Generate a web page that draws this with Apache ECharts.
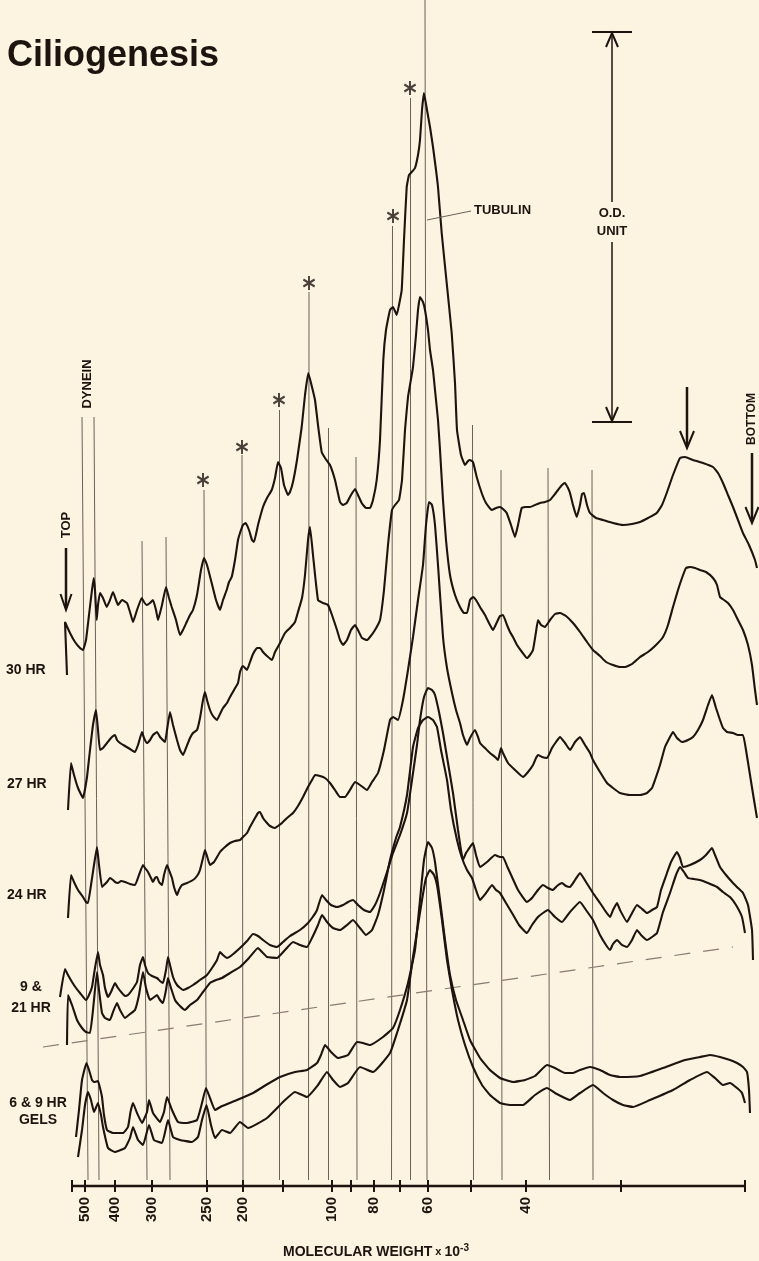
<!DOCTYPE html>
<html><head><meta charset="utf-8">
<script src="https://cdn.jsdelivr.net/npm/echarts@6/dist/echarts.min.js"></script>
<style>html,body{margin:0;padding:0;background:#fcf3e0;}#c{width:759px;height:1261px;}</style>
</head><body><div id="c"></div>
<script>
// x: migration distance along the gel (mm), y: optical density trace deflection (mm of chart paper; 39 mm = 1 O.D. unit)
const trace30 = [[-0.5,51.1],[-0.7,56.4],[-0.2,55.3],[0.3,54.4],[0.8,53.8],[1.1,53.6],[1.4,54.6],[1.7,57.1],[2.0,59.6],[2.17,60.8],[2.3,59.6],[2.47,56.6],[2.6,58.1],[2.8,59.3],[3.1,58.8],[3.47,57.9],[3.8,58.6],[4.1,59.4],[4.4,58.6],[4.6,58.1],[5.0,58.6],[5.5,58.3],[5.8,57.4],[6.1,56.4],[6.5,57.6],[6.97,58.8],[7.2,58.4],[7.47,58.1],[7.8,58.3],[8.1,58.6],[8.4,57.6],[8.6,56.6],[9.0,58.1],[9.4,59.9],[9.7,58.8],[9.97,57.9],[10.4,56.6],[10.8,55.1],[11.1,55.6],[11.47,56.4],[11.8,57.1],[12.1,57.6],[12.5,59.1],[12.9,61.6],[13.2,62.8],[13.5,62.1],[13.97,60.3],[14.4,58.6],[14.8,57.6],[15.1,58.6],[15.47,59.6],[15.7,60.4],[15.97,60.9],[16.3,62.6],[16.6,64.6],[16.8,65.3],[17.1,66.1],[17.37,66.3],[17.7,65.6],[18.0,64.6],[18.2,64.4],[18.6,66.1],[19.1,67.9],[19.5,68.8],[19.97,69.6],[20.3,70.8],[20.6,72.4],[20.9,71.8],[21.2,70.1],[21.6,69.1],[21.8,69.4],[22.1,70.4],[22.5,72.6],[22.97,75.9],[23.3,79.1],[23.63,81.3],[23.9,80.3],[24.3,78.6],[24.6,76.1],[24.97,73.4],[25.3,72.8],[25.8,72.1],[26.3,70.6],[26.8,68.4],[27.1,68.1],[27.47,68.3],[27.9,69.1],[28.3,69.7],[28.6,69.1],[28.97,68.3],[29.4,67.8],[29.8,67.8],[30.1,68.6],[30.47,70.6],[30.8,74.6],[31.13,82.6],[31.4,85.6],[31.8,87.6],[32.1,87.9],[32.47,87.1],[32.7,88.1],[32.97,89.6],[33.2,94.6],[33.47,99.9],[33.7,101.1],[33.97,101.4],[34.3,101.8],[34.6,103.1],[34.8,104.6],[35.0,107.6],[35.2,109.3],[35.5,107.6],[35.8,105.9],[36.1,103.9],[36.4,101.6],[36.6,99.9],[36.97,95.3],[37.47,90.3],[37.97,85.3],[38.3,80.3],[38.5,75.6],[38.9,73.1],[39.3,72.1],[39.6,72.5],[39.8,72.6],[40.1,72.4],[40.5,70.8],[40.97,69.3],[41.4,68.3],[41.97,67.6],[42.4,67.8],[42.8,67.9],[43.1,67.7],[43.47,67.3],[43.9,66.1],[44.3,64.9],[44.6,66.1],[44.97,67.8],[45.4,67.9],[45.8,67.9],[46.3,68.1],[46.8,68.3],[47.3,68.4],[47.8,68.6],[48.3,69.2],[48.6,69.6],[49.0,70.1],[49.3,70.3],[49.6,69.8],[49.8,69.3],[50.1,68.1],[50.47,66.9],[50.8,68.1],[51.0,69.2],[51.2,69.3],[51.5,68.1],[51.8,67.3],[52.4,66.8],[53.1,66.6],[54.1,66.3],[55.1,66.1],[56.0,66.2],[56.8,66.4],[57.6,66.8],[58.47,67.3],[59.0,68.1],[59.47,69.3],[60.1,71.1],[60.8,72.8],[61.3,72.9],[62.1,72.6],[63.1,72.3],[64.1,71.9],[64.6,71.3],[65.1,70.3],[65.6,69.1],[66.1,67.9],[66.6,66.6],[67.1,65.3],[67.7,64.1],[68.3,62.6],[68.5,61.8]];
const trace27 = [[-0.4,37.6],[-0.1,42.3],[0.2,41.1],[0.6,39.8],[1.1,38.8],[1.5,40.9],[1.8,43.6],[2.1,46.1],[2.4,47.6],[2.6,45.6],[2.8,43.6],[3.1,43.8],[3.5,44.3],[3.9,44.8],[4.3,45.1],[4.5,44.6],[4.8,44.3],[5.3,44.0],[5.8,43.7],[6.3,43.4],[6.6,44.1],[7.0,45.4],[7.2,44.8],[7.5,44.3],[7.8,44.6],[8.1,45.1],[8.5,45.4],[8.8,44.9],[9.3,44.4],[9.5,45.6],[9.8,47.4],[10.1,46.1],[10.5,44.6],[10.8,43.6],[11.1,43.1],[11.4,43.8],[11.8,44.8],[12.1,45.3],[12.5,45.6],[12.8,46.8],[13.1,48.6],[13.3,49.4],[13.5,48.6],[13.8,47.6],[14.1,47.0],[14.5,46.6],[14.8,47.2],[15.1,47.8],[15.5,48.3],[15.8,48.9],[16.2,49.6],[16.6,50.3],[16.8,51.4],[17.0,51.9],[17.1,52.0],[17.5,51.6],[17.8,52.4],[18.1,53.2],[18.5,53.8],[18.8,53.8],[19.1,53.4],[19.5,53.0],[20.0,52.6],[20.3,53.4],[20.8,54.3],[21.3,55.3],[21.8,55.8],[22.3,56.4],[22.6,57.4],[23.0,58.8],[23.3,61.1],[23.6,64.6],[23.8,65.9],[24.1,63.1],[24.6,58.6],[25.1,58.3],[25.6,58.1],[26.0,57.1],[26.5,55.6],[26.8,54.6],[27.1,54.1],[27.5,54.6],[27.9,55.6],[28.3,56.1],[28.6,55.6],[29.0,54.8],[29.5,54.6],[29.8,54.9],[30.3,55.6],[30.8,56.6],[31.2,59.6],[31.6,64.1],[32.0,67.6],[32.3,68.1],[32.7,68.6],[33.0,70.6],[33.3,75.6],[33.6,78.9],[33.8,80.1],[34.1,81.9],[34.4,85.1],[34.6,87.6],[34.8,88.9],[35.1,88.4],[35.3,87.6],[35.6,85.6],[35.8,83.6],[36.1,81.6],[36.3,79.6],[36.6,76.6],[36.8,73.6],[37.1,68.6],[37.4,64.6],[37.8,61.1],[38.3,59.1],[38.8,57.9],[39.2,57.3],[39.5,57.3],[39.8,58.6],[40.1,58.9],[40.4,58.6],[40.8,57.9],[41.3,57.1],[41.8,56.1],[42.1,55.6],[42.5,56.4],[42.8,57.0],[43.1,57.1],[43.5,56.1],[43.8,55.4],[44.1,54.9],[44.5,54.1],[45.0,53.4],[45.5,52.8],[45.8,53.1],[46.1,53.6],[46.4,55.4],[46.6,56.6],[46.9,56.1],[47.3,55.9],[47.8,56.6],[48.3,57.2],[48.8,57.3],[49.4,57.0],[50.1,56.3],[50.8,55.4],[51.5,54.4],[52.1,53.6],[52.8,53.0],[53.4,52.4],[54.1,52.1],[54.8,51.9],[55.3,51.9],[56.0,52.2],[56.8,52.9],[57.6,53.4],[58.4,54.1],[59.1,54.9],[59.6,56.1],[60.1,57.9],[60.6,59.6],[61.0,60.8],[61.4,61.8],[61.8,61.9],[62.3,61.8],[62.8,61.6],[63.4,61.4],[64.1,60.8],[64.5,60.1],[64.8,58.9],[65.2,58.6],[65.6,58.3],[66.1,57.6],[66.6,56.6],[67.1,55.6],[67.6,54.1],[68.0,52.1],[68.3,49.6],[68.5,48.1]];
const trace24 = [[-0.4,26.8],[-0.1,31.1],[0.2,30.4],[0.6,29.6],[1.1,28.9],[1.4,28.4],[1.6,28.3],[1.9,30.1],[2.2,32.1],[2.5,33.9],[2.7,32.1],[3.0,29.9],[3.2,30.1],[3.5,30.4],[3.8,30.8],[4.1,30.6],[4.3,30.4],[4.6,30.3],[4.9,30.5],[5.3,30.4],[5.8,30.2],[6.3,30.1],[6.7,31.1],[7.1,32.1],[7.3,31.8],[7.6,31.4],[7.9,30.8],[8.1,30.4],[8.3,30.8],[8.5,30.9],[8.7,30.4],[9.0,30.1],[9.2,31.1],[9.5,32.1],[9.7,31.6],[10.0,30.8],[10.2,29.9],[10.5,29.1],[10.7,29.6],[11.0,30.1],[11.5,30.3],[12.1,30.6],[12.5,31.0],[12.8,31.6],[13.1,32.8],[13.3,33.6],[13.5,33.0],[13.8,32.1],[14.2,32.4],[14.8,33.4],[15.3,33.9],[15.8,34.3],[16.3,34.5],[16.8,34.6],[17.1,34.9],[17.5,35.3],[17.8,35.9],[18.3,36.8],[18.6,37.3],[18.8,37.4],[19.1,36.8],[19.5,36.3],[19.8,36.0],[20.3,35.8],[20.6,36.0],[21.0,36.3],[21.5,36.8],[22.1,37.3],[22.6,38.0],[23.1,38.9],[23.6,39.9],[24.0,40.6],[24.3,41.1],[24.8,41.0],[25.3,40.8],[25.8,40.3],[26.3,39.6],[26.8,38.9],[27.3,38.9],[27.8,39.6],[28.3,40.4],[28.8,40.1],[29.5,39.6],[30.0,40.4],[30.6,41.3],[31.2,43.6],[31.8,46.6],[32.1,46.9],[32.6,46.6],[33.1,48.6],[33.6,51.6],[34.1,54.9],[34.6,58.6],[35.1,62.1],[35.4,66.1],[35.7,68.4],[36.0,68.1],[36.3,66.1],[36.6,62.1],[37.1,54.9],[37.5,51.8],[38.0,49.3],[38.4,47.6],[38.8,46.3],[39.1,45.1],[39.5,44.1],[39.8,44.8],[40.3,45.6],[40.6,44.9],[40.8,44.3],[41.3,43.8],[41.8,43.3],[42.3,42.9],[42.6,42.6],[42.9,43.8],[43.1,43.3],[43.6,42.3],[44.3,41.6],[45.1,40.9],[45.6,41.4],[46.1,42.1],[46.4,42.8],[46.6,43.1],[47.0,42.9],[47.5,42.8],[48.0,43.8],[48.4,44.4],[48.8,44.9],[49.3,44.3],[49.8,43.6],[50.3,44.4],[50.8,44.9],[51.3,44.1],[51.8,43.3],[52.1,42.6],[52.8,41.4],[53.5,40.3],[54.1,39.8],[54.8,39.3],[55.8,39.1],[56.8,39.1],[57.5,39.3],[58.0,39.8],[58.3,40.6],[58.8,42.1],[59.3,43.9],[59.8,44.9],[60.1,45.4],[60.5,44.8],[61.0,44.4],[61.6,44.6],[62.1,44.9],[62.6,45.6],[63.1,46.6],[63.6,48.1],[64.0,49.1],[64.4,47.8],[64.8,46.6],[65.1,45.8],[65.5,45.4],[66.1,45.3],[66.6,45.1],[67.1,45.1],[67.4,43.6],[67.8,41.1],[68.2,38.6],[68.5,36.8]];
const trace21 = [[-1.2,18.9],[-0.7,21.7],[-0.4,21.1],[0.0,20.4],[0.4,19.8],[0.8,19.3],[1.4,18.6],[1.7,19.1],[2.0,19.9],[2.3,21.8],[2.6,23.4],[2.8,22.1],[3.1,21.1],[3.3,19.8],[3.6,18.9],[3.9,19.4],[4.3,20.3],[4.6,19.8],[5.0,19.3],[5.3,19.0],[5.6,19.1],[6.0,19.6],[6.5,20.4],[6.8,22.1],[7.1,22.9],[7.3,22.1],[7.6,21.3],[8.0,21.0],[8.5,20.8],[8.8,20.5],[9.1,20.3],[9.4,21.6],[9.6,22.9],[9.8,22.1],[10.1,20.9],[10.5,20.1],[11.1,19.6],[11.6,19.8],[12.1,20.1],[12.8,20.6],[13.5,21.1],[14.0,21.8],[14.5,22.6],[14.8,23.4],[15.1,23.1],[15.5,22.8],[16.0,23.1],[16.8,23.8],[17.5,24.5],[18.1,25.2],[18.6,25.0],[19.1,24.6],[19.8,24.1],[20.5,23.9],[21.1,24.4],[21.8,25.0],[22.8,25.6],[23.5,26.2],[24.0,26.8],[24.5,27.6],[25.0,29.1],[25.4,28.6],[25.9,28.1],[26.5,27.9],[27.1,28.1],[27.6,28.4],[28.1,28.6],[28.6,28.1],[29.2,27.6],[29.8,27.4],[30.3,28.1],[30.8,29.3],[31.5,31.4],[32.1,33.3],[32.8,35.1],[33.5,37.3],[34.0,40.6],[34.5,44.1],[34.8,46.6],[35.2,48.9],[35.6,49.8],[36.0,49.6],[36.3,49.1],[36.7,47.4],[37.1,45.3],[37.6,42.3],[38.1,39.3],[38.6,35.6],[39.1,32.6],[39.4,33.3],[39.6,33.6],[40.1,34.3],[40.4,33.1],[40.8,31.9],[41.5,32.4],[42.3,33.1],[42.8,32.9],[43.1,32.9],[43.5,32.0],[44.0,30.9],[44.6,29.6],[45.5,28.4],[46.0,28.8],[46.6,29.6],[47.1,30.1],[47.6,29.8],[48.1,29.6],[48.5,30.0],[49.0,30.3],[49.4,30.0],[49.8,29.9],[50.3,30.6],[50.8,31.3],[51.4,30.4],[52.1,29.3],[52.8,28.3],[53.4,27.4],[53.8,26.9],[54.1,27.6],[54.5,28.3],[54.8,27.6],[55.5,26.4],[55.9,27.1],[56.5,28.1],[56.9,27.8],[57.5,27.3],[58.0,27.6],[58.5,27.9],[58.9,29.6],[59.5,31.3],[59.9,32.4],[60.5,33.4],[60.8,32.8],[61.1,31.9],[61.8,32.1],[62.8,32.6],[63.4,33.1],[64.0,33.8],[64.3,33.1],[64.8,31.9],[65.4,31.1],[66.1,30.3],[66.6,29.8],[67.1,29.3],[67.6,28.1],[68.0,25.6],[68.1,22.6]];
const trace9 = [[-0.5,14.1],[-0.4,19.1],[0.0,18.1],[0.5,16.6],[1.0,15.8],[1.4,15.4],[1.8,15.3],[2.1,17.6],[2.5,21.4],[2.7,19.6],[3.0,17.3],[3.3,16.8],[3.8,16.6],[4.1,17.4],[4.5,18.3],[4.8,17.6],[5.3,16.8],[5.8,17.2],[6.3,17.6],[6.7,19.1],[7.1,21.4],[7.4,19.8],[7.8,18.6],[8.1,18.8],[8.5,19.1],[8.8,18.6],[9.1,18.3],[9.4,19.6],[9.6,20.8],[9.9,19.8],[10.3,18.6],[10.8,18.0],[11.3,17.6],[11.8,18.1],[12.5,18.6],[13.1,19.4],[13.8,20.3],[14.4,20.6],[15.0,20.8],[15.8,21.3],[16.8,21.9],[17.7,22.8],[18.6,23.8],[19.0,23.4],[19.5,22.9],[20.5,22.8],[21.3,23.6],[22.1,24.4],[22.8,24.1],[23.5,23.9],[24.0,24.8],[24.6,26.1],[25.0,27.1],[25.5,26.4],[26.1,25.8],[26.8,25.6],[27.5,26.1],[28.1,26.6],[28.8,25.8],[29.4,25.1],[30.0,25.6],[30.6,27.1],[31.2,29.6],[31.8,32.6],[32.4,34.8],[32.8,35.9],[33.5,39.1],[34.1,43.9],[34.6,45.8],[35.1,46.6],[35.6,46.9],[36.1,46.6],[36.5,45.9],[36.9,43.6],[37.5,40.6],[37.9,37.6],[38.5,34.6],[39.0,32.8],[39.5,31.6],[40.0,30.8],[40.4,29.6],[40.8,28.6],[41.4,29.3],[42.0,30.1],[42.4,29.6],[42.8,29.3],[43.4,28.3],[44.0,27.3],[44.7,26.1],[45.5,25.3],[46.0,26.1],[46.6,26.9],[47.1,27.3],[47.6,27.6],[48.3,26.9],[49.0,26.4],[49.8,27.4],[50.8,28.4],[51.4,27.6],[52.1,26.6],[52.8,25.1],[53.4,24.1],[53.8,23.6],[54.1,24.2],[54.5,24.6],[55.0,24.1],[55.5,23.9],[56.0,24.6],[56.5,25.6],[56.9,25.1],[57.5,24.6],[58.0,24.9],[58.5,25.3],[59.1,27.4],[59.8,29.3],[60.4,31.1],[60.8,31.9],[61.2,31.4],[61.6,30.8],[62.2,30.7],[62.8,30.6],[63.6,30.3],[64.5,29.9],[65.1,29.4],[65.8,28.9],[66.4,28.1],[67.0,26.9],[67.3,25.3]];
const gel6 = [[0.4,4.9],[0.7,7.6],[1.0,10.6],[1.45,12.3],[1.7,11.6],[2.0,10.6],[2.2,10.4],[2.6,10.5],[2.8,9.8],[3.0,8.9],[3.2,7.1],[3.5,5.6],[4.1,5.3],[5.1,5.3],[5.6,5.9],[5.85,7.4],[6.1,8.3],[6.5,7.3],[7.0,6.3],[7.5,7.4],[7.7,8.6],[8.1,7.3],[8.8,6.4],[9.2,7.4],[9.5,8.9],[10.0,7.6],[10.6,6.4],[11.5,6.3],[12.5,6.6],[13.0,8.3],[13.4,9.8],[13.8,8.8],[14.3,7.6],[15.0,8.0],[16.5,8.6],[18.1,9.3],[19.4,10.1],[20.8,10.9],[22.3,11.4],[23.5,11.6],[24.5,12.3],[24.9,13.1],[25.3,14.1],[25.9,13.4],[26.6,12.8],[27.6,13.1],[28.5,14.4],[29.1,14.3],[29.8,14.1],[31.1,14.9],[32.1,15.8],[32.8,17.6],[33.6,20.3],[34.3,23.6],[34.8,28.6],[35.2,32.6],[35.6,34.4],[36.0,33.8],[36.3,32.4],[36.8,28.6],[37.3,24.6],[37.8,21.1],[38.4,18.6],[39.1,16.6],[39.8,14.6],[40.8,12.8],[41.8,11.6],[42.8,10.8],[44.1,10.4],[45.3,10.6],[46.3,11.0],[47.5,12.1],[48.3,11.8],[49.3,11.3],[50.1,11.3],[50.8,11.6],[51.8,11.9],[52.8,11.6],[53.8,11.1],[54.8,10.9],[56.8,11.0],[59.1,11.8],[61.3,12.6],[62.8,12.9],[63.8,13.1],[64.8,12.9],[65.8,12.6],[66.5,12.3],[67.1,11.9],[67.5,11.4],[67.7,9.6],[67.8,7.3]];
const gel9 = [[0.6,2.9],[1.0,5.6],[1.3,8.1],[1.6,9.4],[1.9,8.6],[2.2,7.4],[2.6,8.3],[2.9,7.1],[3.1,5.9],[3.6,3.8],[4.3,3.4],[5.3,3.8],[5.8,4.8],[6.1,5.9],[6.6,4.6],[7.1,4.1],[7.7,6.1],[8.2,4.6],[9.0,4.3],[9.6,6.6],[10.1,4.9],[10.8,4.6],[12.0,4.4],[12.6,4.9],[13.0,6.6],[13.45,8.1],[13.9,6.1],[14.3,4.8],[15.0,5.6],[15.8,5.3],[16.8,6.4],[17.6,5.8],[19.5,6.8],[21.1,8.4],[22.3,9.4],[23.5,8.9],[24.6,10.1],[25.5,11.4],[26.1,10.6],[26.8,9.9],[27.6,10.3],[28.8,11.9],[30.1,11.4],[31.8,13.3],[32.5,15.3],[33.5,18.6],[34.1,22.9],[35.0,28.6],[35.4,30.8],[35.8,31.6],[36.2,31.1],[36.5,30.1],[37.0,26.6],[37.5,22.6],[38.0,19.6],[38.6,16.6],[39.3,14.1],[40.1,11.9],[41.0,10.1],[41.8,9.1],[42.8,8.3],[43.8,8.1],[45.1,8.1],[46.3,9.1],[47.5,9.8],[48.3,9.3],[49.8,8.6],[50.8,9.3],[52.1,10.1],[53.1,9.3],[54.1,8.6],[55.1,8.1],[56.1,7.9],[57.8,8.6],[60.1,9.6],[61.8,10.6],[63.5,11.4],[64.3,10.8],[65.1,10.1],[65.8,10.3],[66.5,9.8],[67.0,9.3],[67.3,8.3]];
const baselineDash = [[-2.9,13.9],[66.1,23.9]];
// band reference lines (named bands marked by vertical rules)
const bandTopX    = [1.0, 2.2, 7.0, 9.4, 13.2, 17.0, 20.7, 23.7, 25.6, 28.4, 32.05, 33.8, 35.3, 40.05, 42.9, 47.6, 52.0];
const bandBottomX = [1.6, 2.7, 7.5, 9.8, 13.45, 17.1, 20.7, 23.65, 25.6, 28.5, 31.95, 33.8, 35.5, 40.15, 43.0, 47.75, 52.1];
const bandTopY    = [76.9, 76.9, 64.5, 64.9, 69.6, 73.1, 77.6, 89.4, 75.8, 72.9, 96.0, 108.8, 118.6, 76.1, 71.6, 71.8, 71.6];
const bandBottomY = 0.6;
const starX = [13.1, 17.0, 20.7, 23.7, 32.1, 33.8];
const starY = [70.6, 73.9, 78.6, 90.3, 97.0, 109.8];
// molecular weight scale (x 10^-3), drawn from gel top (0) to gel bottom (67.3)
const scaleEnds  = [0, 67.3];
const tickPos    = [0, 1.3, 4.3, 7.95, 13.5, 17.05, 21.1, 26.0, 27.9, 30.2, 32.8, 35.6, 39.85, 45.4, 54.9, 67.3];
const tickLabels = ['', '500', '400', '300', '250', '200', '', '100', '', '80', '', '60', '', '40', '', ''];

const ink = '#1d130f';
const rule = '#6f5f59';
const F = '"Liberation Sans", Arial, sans-serif';
const labelPos = tickPos.filter((p, i) => tickLabels[i] !== '');

function txt(x, y, text, size, opt) {
  opt = opt || {};
  return {type: 'text', x: x, y: y, rotation: opt.rot || 0, z: 20,
    style: {text: text, fontSize: size, fontWeight: 'bold', fontFamily: opt.font || F, fill: ink,
      align: opt.align || 'center', verticalAlign: opt.va || 'middle'}};
}
function seg(x1, y1, x2, y2, w) {
  return {type: 'line', z: 20, shape: {x1: x1, y1: y1, x2: x2, y2: y2}, style: {stroke: ink, lineWidth: w || 1.5}};
}
function head(x, y, dir, hw, hl) {
  return {type: 'polyline', z: 20, shape: {points: [[x - hw, y - dir * hl], [x, y], [x + hw, y - dir * hl]]},
    style: {stroke: ink, lineWidth: 2, fill: null}};
}

const graphic = [
  txt(7, 38, 'Ciliogenesis', 36, {align: 'left', va: 'top'}),
  txt(87, 384, 'DYNEIN', 13, {rot: Math.PI / 2}),
  txt(66, 525, 'TOP', 13, {rot: Math.PI / 2}),
  seg(66, 548, 66, 608, 2.5), head(66, 610, 1, 5.5, 16),
  txt(752, 419, 'BOTTOM', 12, {rot: Math.PI / 2}),
  seg(752, 453, 752, 521, 2.5), head(752, 523, 1, 6.5, 16),
  seg(687, 387, 687, 446, 2.5), head(687, 448, 1, 7, 17),
  txt(474, 210, 'TUBULIN', 13, {align: 'left'}),
  {type: 'line', z: 20, shape: {x1: 427, y1: 220, x2: 471, y2: 211}, style: {stroke: rule, lineWidth: 1}},
  seg(592, 32, 632, 32, 2), seg(592, 422, 632, 422, 2),
  seg(612, 33, 612, 202, 1.5), seg(612, 242, 612, 421, 1.5),
  head(612, 33, -1, 6, 14), head(612, 421, 1, 6, 14),
  txt(612, 213, 'O.D.', 13), txt(612, 231, 'UNIT', 13),
  txt(6, 670, '30 HR', 14, {align: 'left'}),
  txt(7, 784, '27 HR', 14, {align: 'left'}),
  txt(7, 895, '24 HR', 14, {align: 'left'}),
  txt(31, 987, '9 &', 14), txt(31, 1008, '21 HR', 14),
  txt(38, 1103, '6 & 9 HR', 14), txt(38, 1120, 'GELS', 14),
  {type: 'text', x: 376, y: 1252, z: 20, style: {
    text: '{a|MOLECULAR WEIGHT}{b| x }{a|10}{s|-3}', align: 'center', verticalAlign: 'middle',
    rich: {a: {fontSize: 14, fontWeight: 'bold', fontFamily: F, fill: ink, color: ink, lineHeight: 18},
           b: {fontSize: 11, fontWeight: 'bold', fontFamily: F, fill: ink, color: ink, lineHeight: 18},
           s: {fontSize: 10, fontWeight: 'bold', fontFamily: F, fill: ink, color: ink, verticalAlign: 'top', lineHeight: 18}}}}
];

function traceSeries(name, data) {
  return {name: name, type: 'line', data: data, symbol: 'none', clip: false, smooth: 0.12, z: 5,
    lineStyle: {color: ink, width: 2.1}, silent: true};
}

const bandData = bandTopX.map((x, i) => ({coords: [[x, bandTopY[i]], [bandBottomX[i], bandBottomY]]}));

const xMin = -3.2, xMax = 68.6;
const chart = echarts.init(document.getElementById('c'), null, {renderer: 'canvas'});
chart.setOption({
  animation: false,
  backgroundColor: '#fcf3e0',
  grid: {left: 40, right: 1, top: 0, bottom: 75, containLabel: false},
  xAxis: [{
    type: 'value', min: xMin, max: xMax, position: 'bottom',
    axisLine: {show: false},
    axisTick: {show: true, customValues: tickPos, length: 6, inside: false, lineStyle: {color: ink, width: 2}},
    axisLabel: {show: true, customValues: labelPos, rotate: 90, margin: 11, fontSize: 15, fontWeight: 'bold',
      fontFamily: F, color: ink,
      formatter: function (v) { const i = tickPos.findIndex(p => Math.abs(p - v) < 1e-6); return i >= 0 ? tickLabels[i] : ''; }},
    splitLine: {show: false}
  }, {
    type: 'value', min: xMin, max: xMax, position: 'bottom',
    axisLine: {show: false},
    axisTick: {show: true, customValues: tickPos, length: 6, inside: true, lineStyle: {color: ink, width: 2}},
    axisLabel: {show: false}, splitLine: {show: false}
  }],
  yAxis: {type: 'value', min: 0, max: 118.6, show: false},
  graphic: graphic,
  series: [
    {type: 'line', data: scaleEnds.map(x => [x, 0]), symbol: 'none', z: 4, silent: true, clip: false,
      lineStyle: {color: ink, width: 2.5}},
    {type: 'lines', coordinateSystem: 'cartesian2d', data: bandData, z: 1, silent: true,
      lineStyle: {color: rule, width: 1, opacity: 1}},
    {type: 'line', data: baselineDash, symbol: 'none', clip: false, z: 2, silent: true,
      lineStyle: {color: '#8a7a73', width: 1.2, type: [16, 13]}},
    {type: 'scatter', data: starX.map((x, i) => [x, starY[i]]), z: 6, silent: true,
      symbol: 'path://M0,-6L0,6M-5.2,-3L5.2,3M-5.2,3L5.2,-3', symbolSize: [13, 14], symbolKeepAspect: true,
      itemStyle: {color: 'rgba(0,0,0,0)', borderColor: ink, borderWidth: 2}},
    traceSeries('30 HR', trace30),
    traceSeries('27 HR', trace27),
    traceSeries('24 HR', trace24),
    traceSeries('21 HR', trace21),
    traceSeries('9 HR', trace9),
    traceSeries('6 HR gel', gel6),
    traceSeries('9 HR gel', gel9)
  ]
});
</script>
</body></html>
